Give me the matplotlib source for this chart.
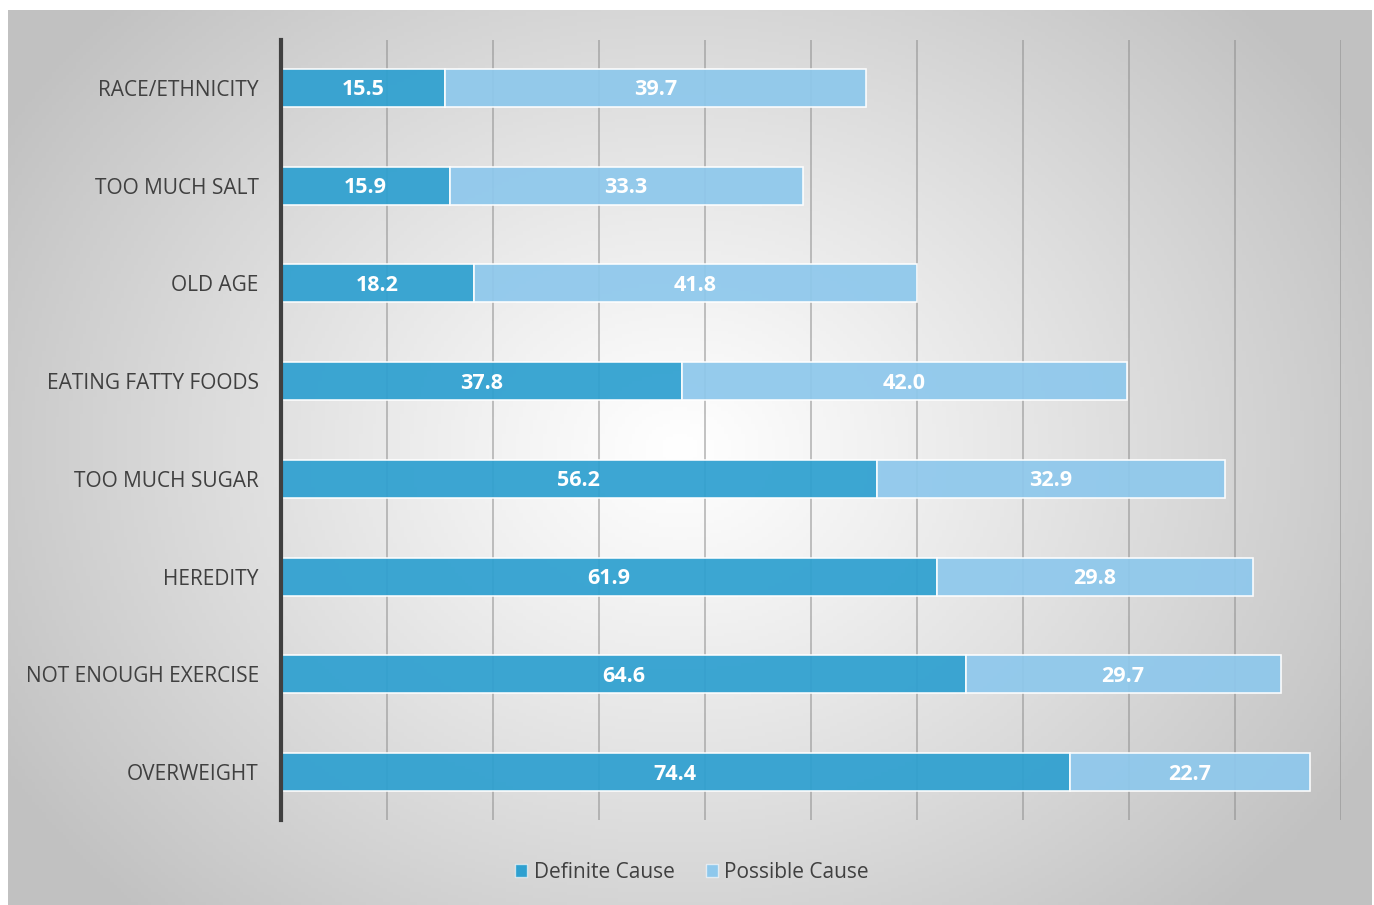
import matplotlib
matplotlib.use("Agg")
import matplotlib.pyplot as plt
import numpy as np
from matplotlib.patches import Rectangle

categories = ["RACE/ETHNICITY", "TOO MUCH SALT", "OLD AGE", "EATING FATTY FOODS",
              "TOO MUCH SUGAR", "HEREDITY", "NOT ENOUGH EXERCISE", "OVERWEIGHT"]
definite = [15.5, 15.9, 18.2, 37.8, 56.2, 61.9, 64.6, 74.4]
possible = [39.7, 33.3, 41.8, 42.0, 32.9, 29.8, 29.7, 22.7]
series_names = ["Definite Cause", "Possible Cause"]

plt.rcParams['font.family'] = ['Open Sans', 'DejaVu Sans']

W, H = 1374, 905
fig = plt.figure(figsize=(W / 100, H / 100), dpi=100)
fig.patch.set_facecolor("white")

# background radial gradient panel
bx0, by0, bx1, by1 = 8, 10, 1372, 905
bg = fig.add_axes([bx0 / W, 1 - by1 / H, (bx1 - bx0) / W, (by1 - by0) / H])
nx, ny = 400, 270
xx, yy = np.meshgrid(np.linspace(bx0, bx1, nx), np.linspace(by0, by1, ny))
cx, cy = 680, 450
r = np.sqrt(((xx - cx) / 780) ** 2 + ((yy - cy) / 640) ** 2)
r = np.clip(r, 0, 1)
val = 1.0 - 0.24 * r ** 1.1
img = np.dstack([val, val, val])
bg.imshow(img, aspect="auto", extent=[0, 1, 0, 1], origin="upper")
bg.set_axis_off()

ax = fig.add_axes([281 / W, 1 - 820 / H, (1341 - 281) / W, (820 - 40) / H])
ax.patch.set_alpha(0)
y = np.arange(len(categories))
c1 = "#2ea0d0"
c2 = "#8ec8ec"
ax.set_axisbelow(True)
ax.xaxis.grid(True, color="#8a8a8a", alpha=0.55, linewidth=1.3)
ax.barh(y, definite, height=0.39, color=c1, alpha=0.93, edgecolor=(1, 1, 1, 0.5), linewidth=1.2)
ax.barh(y, possible, left=definite, height=0.39, color=c2, alpha=0.93, edgecolor=(1, 1, 1, 0.5), linewidth=1.2)
for i in range(len(categories)):
    ax.text(definite[i] / 2, y[i] + 0.02, f"{definite[i]:.1f}", ha="center", va="center",
            color="white", fontsize=15.5, fontweight="bold")
    ax.text(definite[i] + possible[i] / 2, y[i] + 0.02, f"{possible[i]:.1f}", ha="center", va="center",
            color="white", fontsize=15.5, fontweight="bold")
ax.set_xlim(0, 100)
ax.set_xticks(np.arange(0, 101, 10))
ax.set_ylim(7.49, -0.49)
ax.set_yticks(y)
ax.set_yticklabels(categories, fontsize=15, color="#404040")
ax.tick_params(axis="y", length=0, pad=16)
ax.tick_params(axis="x", length=0, labelbottom=False)
for s in ["top", "right", "bottom"]:
    ax.spines[s].set_visible(False)
ax.spines["left"].set_color("#404040")
ax.spines["left"].set_linewidth(3)

h1 = Rectangle((0, 0), 1, 1, facecolor=c1, edgecolor=(1, 1, 1, 0.6))
h2 = Rectangle((0, 0), 1, 1, facecolor=c2, edgecolor=(1, 1, 1, 0.6))
fig.legend([h1, h2], series_names, loc="center", bbox_to_anchor=(692 / W, 1 - 872 / H),
           ncol=2, frameon=False, fontsize=15, handlelength=0.6, handleheight=0.6,
           handletextpad=0.3, columnspacing=1.5, labelcolor="#404040")

fig.savefig("out.png", dpi=100)
